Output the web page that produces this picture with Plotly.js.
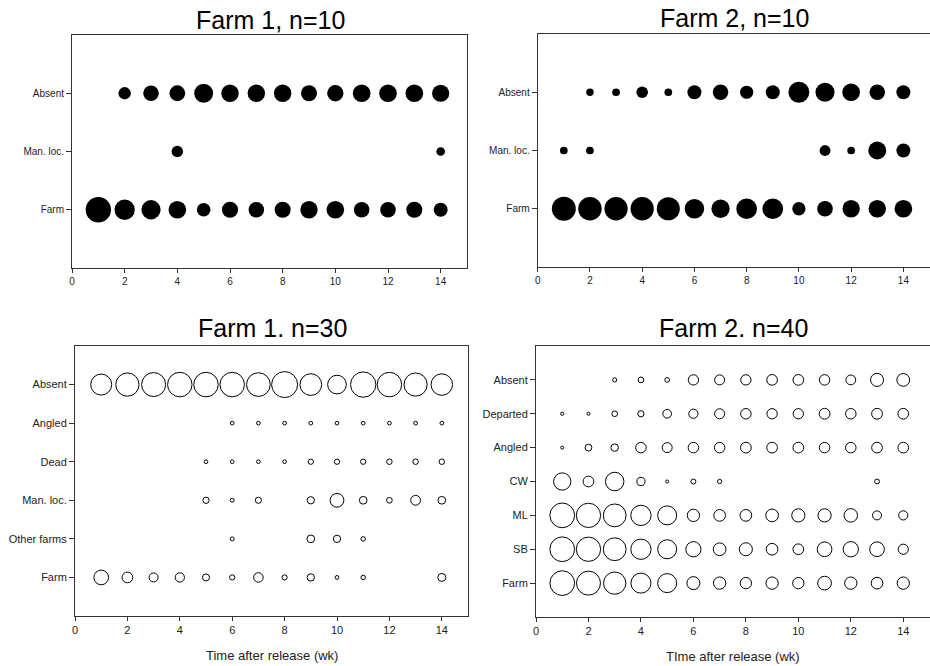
<!DOCTYPE html>
<html>
<head>
<meta charset="utf-8">
<script src="https://cdn.plot.ly/plotly-3.0.1.min.js"></script>
<style>html,body{margin:0;padding:0;background:#fff;}#chart{width:930px;height:666px;}</style>
</head>
<body>
<div id="chart"></div>
<script>
// ---------- data ----------
const weeks = [1,2,3,4,5,6,7,8,9,10,11,12,13,14];
const xTicks = [0,2,4,6,8,10,12,14];

// Panel A: Farm 1, n=10 (bubble magnitudes)
const catsA = ["Farm", "Man. loc.", "Absent"];
const a_farm   = [27.3,21.8,20.7,19,14.7,17.3,16.7,17.2,18.7,19,16.7,16.7,17.2,15];
const a_manloc = [null,null,null,12.3,null,null,null,null,null,null,null,null,null,9.3];
const a_absent = [null,13.3,16.7,17,20.3,18.7,18.7,18.7,17.2,17.5,19,19,19,18.5];

// Panel B: Farm 2, n=10
const catsB = ["Farm", "Man. loc.", "Absent"];
const b_farm   = [25.8,25.3,25,25,24.8,21,19.7,22.3,22.3,14.3,16.8,18.7,18.8,19];
const b_manloc = [8.3,8.3,null,null,null,null,null,null,null,null,11.7,8.3,19.3,15];
const b_absent = [null,8,8.3,12.5,8.3,15,16.7,14.2,15,22.5,20.5,19,16.7,15];

// Panel C: Farm 1, n=30
const catsC = ["Farm", "Other farms", "Man. loc.", "Dead", "Angled", "Absent"];
const c_farm   = [15.7,11.7,10,10.3,8,6.2,10.5,6.2,8.3,4.8,5.5,null,null,9];
const c_other  = [null,null,null,null,null,5,null,null,8.7,8.3,5.5,null,null,null];
const c_manloc = [null,null,null,null,7.3,5,7.2,null,8.3,14.8,8.7,6.7,10.8,8.7];
const c_dead   = [null,null,null,null,4.7,4.7,4.7,4.7,6.3,6.3,6.3,6.5,6.5,6.5];
const c_angled = [null,null,null,null,null,4.7,4.7,4.7,4.7,4.7,4.7,4.7,4.7,4.7];
const c_absent = [22,24.3,25,25.5,25.5,25.5,24.7,27,22.7,19.7,26.3,25.5,24.2,22.5];

// Panel D: Farm 2, n=40
const catsD = ["Farm", "SB", "ML", "CW", "Angled", "Departed", "Absent"];
const d_farm     = [25.7,25,23.3,21,20,14,13.3,12.3,13.3,12.3,14.7,13.3,12.7,13.3];
const d_sb       = [25.7,25.3,23.8,21.3,20,16.2,13.7,14,12.7,11.7,15.7,16.3,15.7,11.2];
const d_ml       = [25.7,25.3,23.8,21.3,20,13.3,12.7,12.7,13.7,14.2,14.2,14.5,10,10.2];
const d_cw       = [18.3,11.7,19.5,9.2,4,6,5.3,null,null,null,null,null,5.8,null];
const d_angled   = [4,7.8,8.5,11.5,11,11.5,11.5,11.7,11.7,11.7,11.5,11.5,11.7,11.7];
const d_departed = [4.2,4,6.7,7.2,9.7,10.2,11,11.5,11.3,11.3,11.8,11.5,11.8,11.7];
const d_absent   = [null,null,5.2,6.7,5.7,11.3,11,11.3,11.7,11.7,11.5,10.8,14,13.8];

const titles = ["Farm 1, n=10", "Farm 2, n=10", "Farm 1. n=30", "Farm 2. n=40"];
const xTitles = ["Time after release (wk)", "TIme after release (wk)"];

// ---------- build ----------
const FONT = "Liberation Sans, Arial, Helvetica, sans-serif";
const traces = [];
function addRows(rows, xa, ya, filled, scale) {
  rows.forEach((vals, i) => {
    const xs = [], ys = [], ss = [];
    vals.forEach((v, k) => {
      if (v !== null) { xs.push(weeks[k]); ys.push(i); ss.push(v); }
    });
    traces.push({
      type: "scatter", mode: "markers", x: xs, y: ys,
      xaxis: xa, yaxis: ya, hoverinfo: "x+y", showlegend: false,
      marker: filled
        ? {symbol: "circle", color: "#000", opacity: 1, size: ss.map(s => s * scale), line: {width: 0}}
        : {symbol: "circle", color: "rgba(0,0,0,0)", opacity: 1, size: ss.map(s => Math.max(s * scale - 1, 2)),
           line: {width: 1, color: "#000"}}
    });
  });
}
addRows([a_farm, a_manloc, a_absent], "x", "y", true, 0.93);
addRows([b_farm, b_manloc, b_absent], "x2", "y2", true, 0.93);
addRows([c_farm, c_other, c_manloc, c_dead, c_angled, c_absent], "x3", "y3", false, 1);
addRows([d_farm, d_sb, d_ml, d_cw, d_angled, d_departed, d_absent], "x4", "y4", false, 1);

function xax(dom, anchor, fs) {
  return {domain: dom, anchor: anchor, range: [0, 15], tickvals: xTicks,
    showline: true, mirror: true, linecolor: "#333", linewidth: 1,
    ticks: "outside", ticklen: 4, tickcolor: "#333", showgrid: false, zeroline: false,
    tickfont: {family: FONT, size: fs, color: "#222"}};
}
function yax(dom, anchor, cats, fs) {
  return {domain: dom, anchor: anchor, range: [-1, cats.length],
    tickvals: cats.map((c, i) => i), ticktext: cats,
    showline: true, mirror: true, linecolor: "#333", linewidth: 1,
    ticks: "outside", ticklen: 5, tickcolor: "#333", showgrid: false, zeroline: false,
    tickfont: {family: FONT, size: fs, color: "#222"}};
}
const W = 930, H = 666;
const px = (a, b) => [a / W, b / W];
const py = (top, bot) => [1 - bot / H, 1 - top / H];

const layout = {
  width: W, height: H, margin: {l: 0, r: 0, t: 0, b: 0},
  paper_bgcolor: "#fff", plot_bgcolor: "#fff",
  font: {family: FONT, color: "#222"},
  xaxis:  xax(px(72, 467), "y", 10),
  yaxis:  yax(py(35, 268), "x", catsA, 10),
  xaxis2: xax(px(537.7, 929.5), "y2", 10),
  yaxis2: yax(py(34, 267), "x2", catsB, 10),
  xaxis3: xax(px(75, 468), "y3", 11),
  yaxis3: yax(py(346, 616), "x3", catsC, 11),
  xaxis4: xax(px(536, 929.5), "y4", 11),
  yaxis4: yax(py(346, 617), "x4", catsD, 11),
  annotations: [
    {text: titles[0], x: 270 / W, y: 1 - 20 / H},
    {text: titles[1], x: 734 / W, y: 1 - 18 / H},
    {text: titles[2], x: 272 / W, y: 1 - 328 / H},
    {text: titles[3], x: 733 / W, y: 1 - 328 / H}
  ].map(a => Object.assign(a, {xref: "paper", yref: "paper", showarrow: false,
      xanchor: "center", yanchor: "middle", font: {family: FONT, size: 25, color: "#000"}}))
  .concat([
    {text: xTitles[0], x: 272 / W, y: 1 - 655 / H},
    {text: xTitles[1], x: 733 / W, y: 1 - 656 / H}
  ].map(a => Object.assign(a, {xref: "paper", yref: "paper", showarrow: false,
      xanchor: "center", yanchor: "middle", font: {family: FONT, size: 13, color: "#222"}})))
};

Plotly.newPlot("chart", traces, layout, {staticPlot: true, displayModeBar: false});
</script>
</body>
</html>
